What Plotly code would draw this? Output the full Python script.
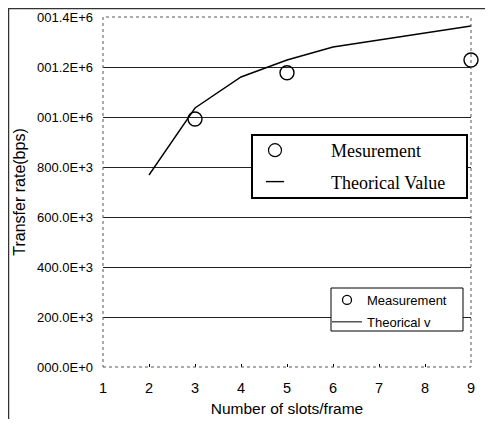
import plotly.graph_objects as go

slots_theory = [2, 3, 4, 5, 6, 7, 8, 9]
rate_theory = [768e3, 1036e3, 1160e3, 1228e3, 1280e3, 1308e3, 1336e3, 1364e3]
slots_meas = [3, 5, 9]
rate_meas = [992e3, 1177e3, 1228e3]

y_tickvals = [0, 200e3, 400e3, 600e3, 800e3, 1000e3, 1200e3, 1400e3]
y_ticktext = ["000.0E+0", "200.0E+3", "400.0E+3", "600.0E+3", "800.0E+3",
              "001.0E+6", "001.2E+6", "001.4E+6"]
x_tickvals = [1, 2, 3, 4, 5, 6, 7, 8, 9]

sans = "Liberation Sans, Arial, sans-serif"
serif = "Liberation Serif, Times New Roman, serif"
NB = "\u00a0"

# figure is drawn at an 8px page offset; plot area in screen px: x 103..471, y 17..367
W, H = 477, 411
L, R, T, B = 95, 14, 9, 52
PW, PH = W - L - R, H - T - B


def px(sx):  # screen x -> paper
    return (sx - 8 - L) / PW


def py(sy):  # screen y -> paper
    return 1 - (sy - 8 - T) / PH


fig = go.Figure()

fig.add_trace(go.Scatter(
    x=slots_meas, y=rate_meas, mode="markers", name="Measurement",
    marker=dict(symbol="circle-open", size=14, color="black", line=dict(width=1.4)),
    showlegend=False, cliponaxis=False))
fig.add_trace(go.Scatter(
    x=slots_theory, y=rate_theory, mode="lines", name="Theorical v",
    line=dict(color="black", width=1.4), showlegend=False))

# small legend entries
fig.add_trace(go.Scatter(
    x=[None], y=[None], mode="markers", name="Measurement", legendgroup="a2",
    marker=dict(symbol="circle-open", size=9, color="black", line=dict(width=1.3)),
    legend="legend2"))
fig.add_trace(go.Scatter(
    x=[None], y=[None], mode="lines", name="Theorical v", legendgroup="b2",
    line=dict(color="black", width=1), legend="legend2"))

# big legend entries
fig.add_trace(go.Scatter(
    x=[None], y=[None], mode="markers", name=NB * 8 + "Mesurement", legendgroup="a1",
    marker=dict(symbol="circle-open", size=13, color="black", line=dict(width=1.2)),
    legend="legend"))
fig.add_trace(go.Scatter(
    x=[None], y=[None], mode="markers", name=NB * 8 + "Theorical Value", legendgroup="b1",
    marker=dict(symbol="line-ew-open", size=13, color="black", line=dict(width=1.4)),
    legend="legend"))

fig.update_layout(
    width=W, height=H,
    margin=dict(l=L, r=R, t=T, b=B),
    paper_bgcolor="white", plot_bgcolor="white",
    font=dict(family=sans, size=13, color="black"),
    legend=dict(
        x=px(255), y=py(132), xanchor="left", yanchor="top",
        bgcolor="rgba(0,0,0,0)", borderwidth=0,
        font=dict(family=serif, size=18, color="black"),
        itemwidth=30, tracegroupgap=5, traceorder="grouped",
    ),
    legend2=dict(
        x=px(327), y=py(285), xanchor="left", yanchor="top",
        bgcolor="rgba(0,0,0,0)", borderwidth=0,
        font=dict(family=sans, size=13, color="black"),
        itemwidth=30, tracegroupgap=2, traceorder="grouped",
    ),
    showlegend=True,
)

fig.update_xaxes(
    range=[1, 9], tickvals=x_tickvals, ticks="inside", ticklen=3, tickcolor="black",
    showgrid=False, zeroline=False, showline=False, ticklabelstandoff=10,
    automargin=False,
    tickfont=dict(family=sans, size=14.5),
    title=dict(text="Number of slots/frame", font=dict(family=sans, size=15.5), standoff=8),
)
fig.update_yaxes(
    range=[0, 1400e3], tickvals=y_tickvals, ticktext=y_ticktext,
    showgrid=True, gridcolor="#222", gridwidth=1, zeroline=False, showline=False,
    automargin=False,
    ticks="", ticklabelstandoff=9, tickfont=dict(family=sans, size=13),
    title=dict(text="Transfer rate(bps)", font=dict(family=sans, size=16), standoff=7),
)

# dotted plot-area border
fig.add_shape(type="rect", xref="x domain", yref="y domain", x0=0, y0=0, x1=1, y1=1,
              line=dict(color="#555", width=1, dash="dot"), layer="above")
# legend frames
fig.add_shape(type="rect", xref="paper", yref="paper",
              x0=px(252), x1=px(467), y0=py(198), y1=py(135),
              line=dict(color="black", width=2), fillcolor="white", layer="above")
fig.add_shape(type="rect", xref="paper", yref="paper",
              x0=px(331), x1=px(463), y0=py(331), y1=py(288),
              line=dict(color="black", width=1), fillcolor="white", layer="above")
# outer chart frame (top and left edges)
fig.add_shape(type="line", xref="paper", yref="paper",
              x0=px(8), x1=px(500), y0=py(8.5), y1=py(8.5),
              line=dict(color="#333", width=1.5))
fig.add_shape(type="line", xref="paper", yref="paper",
              x0=px(8.5), x1=px(8.5), y0=py(8), y1=py(430),
              line=dict(color="#333", width=1.5))

fig.write_html("out.html")
